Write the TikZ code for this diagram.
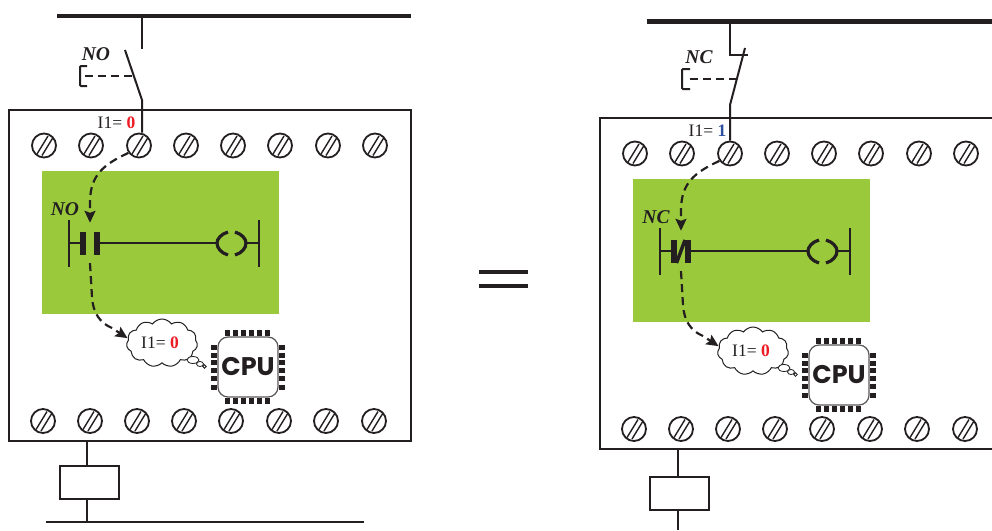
\documentclass[tikz,border=0pt]{standalone}
\usepackage{fontspec}
\setmainfont{Liberation Serif}
\newfontfamily\cpufont{Poppins}
\usetikzlibrary{arrows.meta,shapes.symbols,calc}
\definecolor{ink}{HTML}{231F20}
\definecolor{plcgreen}{HTML}{9ACA3C}
\definecolor{valred}{HTML}{ED1C24}
\definecolor{valblue}{HTML}{2E4FA0}
\tikzset{
  every path/.style={color=ink},
  wire/.style={draw=ink,line width=2pt},
  rung/.style={draw=ink,line width=2.6pt},
  bus/.style={draw=ink,line width=4.2pt},
  signal/.style={draw=ink,line width=2.2pt,dash pattern=on 8pt off 5pt,line cap=butt},
  signaltip/.style={signal,-{Stealth[length=12pt,width=11pt,inset=2pt]}},
  screw/.style={circle,draw=ink,line width=1.8pt,minimum size=24pt,inner sep=0pt,
    path picture={
      \draw[line width=1.4pt,ink] ($(path picture bounding box.center)+(-7,8.5)$) -- ($(path picture bounding box.center)+(4,-9.5)$);
      \draw[line width=1.4pt,ink] ($(path picture bounding box.center)+(-2,10)$) -- ($(path picture bounding box.center)+(9,-8)$);
    }},
  tag/.style={font=\fontsize{19.5}{20}\selectfont\bfseries\itshape,text=ink,inner sep=0pt},
  value/.style={font=\fontsize{17.5}{18}\selectfont,text=ink,inner sep=0pt},
  relay/.style={draw=ink,line width=1.8pt,fill=white,minimum width=59pt,minimum height=33pt,inner sep=0pt},
}
% #1 prefix, #2 colour of I1 at the input, #3 value at the input, #4 contact tag, #5 extra contact art
\newcommand{\plcpanel}[5]{%
  \node[draw=ink,line width=1.8pt,minimum width=402pt,minimum height=331pt,inner sep=0pt] (#1box) at (210,275.5) {};
  \foreach \n/\xx in {1/44,2/91,3/139,4/186,5/233,6/280,7/328,8/375}
    \node[screw] (#1t\n) at (\xx,145.5) {};
  \foreach \n/\xx in {1/43,2/90,3/137,4/184,5/231,6/279,7/326,8/374}
    \node[screw] (#1b\n) at (\xx,421) {};
  \node[fill=plcgreen,minimum width=237pt,minimum height=143pt,inner sep=0pt] (#1plc) at (160.5,242.5) {};
  \node[value,anchor=west] (#1in) at (97.5,123) {I1= \textcolor{#2}{\textbf{#3}}};
  \node[tag] (#1tag) at (65,209) {#4};
  \node[minimum width=20pt,minimum height=40pt,inner sep=0pt] (#1c) at (90,243) {};
  \node[minimum width=29pt,minimum height=26pt,inner sep=0pt] (#1coil) at (231.5,243) {};
  \coordinate (#1railL) at (69,243);
  \coordinate (#1railR) at (259,243);
  \draw[rung] (69,220) -- (69,267);
  \draw[rung] (259,220) -- (259,267);
  \draw[rung] (#1railL) -- (#1c);
  \draw[rung] (#1c) -- (#1coil);
  \draw[rung] (#1coil) -- (#1railR);
  \fill[ink] (80,232) rectangle (86,255);
  \fill[ink] (94,232) rectangle (100,255);
  #5
  \draw[ink,line width=3.2pt] (228,232) .. controls (221,234) and (217,239) .. (217,243) .. controls (217,248) and (221,253) .. (228,255);
  \draw[ink,line width=3.2pt] (235,232) .. controls (242,234) and (246,239) .. (246,243) .. controls (246,248) and (242,253) .. (235,255);
  \node[cloud,cloud puffs=11,cloud puff arc=110,aspect=1.45,draw=ink,line width=1pt,fill=white,minimum width=71pt,minimum height=48pt,inner sep=0pt,font=\fontsize{17.5}{18}\selectfont,text=ink] (#1cl) at (162,343) {I1= \textcolor{valred}{\textbf{0}}\kern 4pt};
  \draw[ink,line width=.8pt,fill=white] (193,360) ellipse (6pt and 3.5pt);
  \draw[ink,line width=.8pt,fill=white] (200,364) ellipse (3.5pt and 2.5pt);
  \draw[ink,line width=.8pt,fill=white] (204.5,366.5) circle (1.8pt);
  \draw[signaltip] (#1t3.215) .. controls (102,165) and (91,176) .. (90,200) -- (#1c.north);
  \draw[signaltip] (#1c.south) -- (92,297) .. controls (93,313) and (100,323) .. (112,328) -- (#1cl.172);
  \foreach \xx in {227,235,243,251,259,267} {
    \fill[ink] (\xx-2.5,330) rectangle (\xx+2.5,336);
    \fill[ink] (\xx-2.5,398) rectangle (\xx+2.5,404);
  }
  \foreach \yy in {347,355,362,370,378,387} {
    \fill[ink] (211,\yy-2.5) rectangle (217,\yy+2.5);
    \fill[ink] (279,\yy-2.5) rectangle (285,\yy+2.5);
  }
  \node[draw=ink!75,line width=1.2pt,rounded corners=10pt,minimum width=60pt,minimum height=60pt,inner sep=0pt,font=\cpufont\bfseries\fontsize{25.5}{26}\selectfont,text=ink] (#1cpu) at (248,367) {CPU};
}
\begin{document}
\begin{tikzpicture}[x=1pt,y=-1pt]
\useasboundingbox (0,0) rectangle (992,530);
\fill[white] (0,0) rectangle (992,530);
% left panel
\plcpanel{L}{valred}{0}{NO}{}
\coordinate (Lbus1) at (57,16);
\coordinate (Lbus2) at (411,16);
\draw[bus] (Lbus1) -- (Lbus2);
\coordinate (Ltap) at (142,16);
\coordinate (Lfix) at (142,49);
\coordinate (Lblade) at (125,50);
\coordinate (Lpivot) at (142,100);
\coordinate (Lrod) at (133,76);
\draw[wire] (Ltap) -- (Lfix);
\draw[wire] (Lblade) -- (Lpivot) -- (Lpivot |- Lt3.north);
\draw[wire,dash pattern=on 8pt off 5pt] (85,76) -- (Lrod);
\draw[wire,rounded corners=1pt] (87,66) -- (80,66) -- (80,86) -- (87,86);
\node[tag] (Lswtag) at (96,54) {NO};
% equals
\coordinate (e1) at (479,272);\coordinate (e2) at (528,272);
\coordinate (e3) at (479,286);\coordinate (e4) at (528,286);
\draw[bus] (e1) -- (e2);
\draw[bus] (e3) -- (e4);
% left relay
\node[relay] (Lrelay) at (89.5,482.5) {};
\coordinate (Lgnd1) at (46,522);
\coordinate (Lgnd2) at (364,522);
\coordinate (Lw1) at (87,441);
\coordinate (Lw2) at (87,522);
\draw[wire] (Lw1) -- (Lrelay.north -| Lw1);
\draw[wire] (Lrelay.south -| Lw2) -- (Lw2);
\draw[line width=2.2pt] (Lgnd1) -- (Lgnd2);
% right panel
\begin{scope}[shift={(591,8)}]
\plcpanel{R}{valblue}{1}{NC}{\draw[ink,line width=3.5pt] (85.5,255) -- (94,232);}
\end{scope}
\coordinate (Rbus1) at (647,21.5);
\coordinate (Rbus2) at (992,21.5);
\draw[bus] (Rbus1) -- (Rbus2);
\coordinate (Rtap) at (730,21);
\coordinate (Rcor) at (730,55);
\coordinate (Rfix) at (748,55);
\coordinate (Rblade) at (745,48);
\coordinate (Rpivot) at (730,105);
\coordinate (Rrod) at (737,79);
\draw[wire] (Rtap) -- (Rcor) -- (Rfix);
\draw[wire] (Rblade) -- (Rpivot) -- (Rpivot |- Rt3.north);
\draw[wire,dash pattern=on 8pt off 5pt] (690,79) -- (Rrod);
\draw[wire,rounded corners=1pt] (690,69) -- (682,69) -- (682,89) -- (690,89);
\node[tag] (Rswtag) at (699,57) {NC};
\coordinate (Rw1) at (678,449);
\coordinate (Rw2) at (678,530);
\node[relay] (Rrelay) at (679.5,493.5) {};
\draw[wire] (Rw1) -- (Rrelay.north -| Rw1);
\draw[wire] (Rrelay.south -| Rw2) -- (Rw2);
\end{tikzpicture}
\end{document}
